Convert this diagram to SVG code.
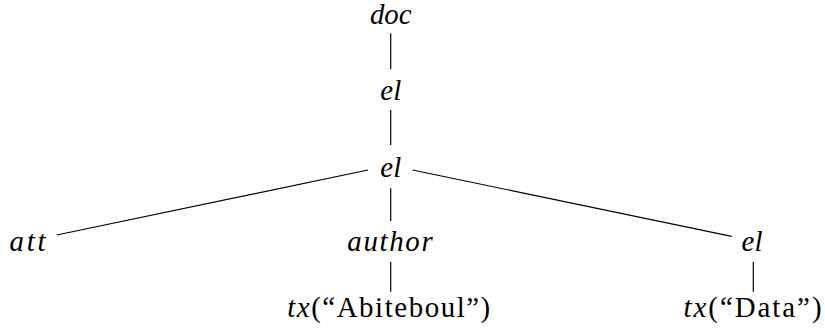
<svg xmlns="http://www.w3.org/2000/svg" width="825" height="336" viewBox="0 0 825 336">
<style>
text{font-family:'Liberation Serif','Times New Roman',serif;font-size:28.9px;fill:#000;text-anchor:middle}
.m{font-style:italic}
.r{font-style:normal}
.c line{stroke:#000;stroke-width:1.2}
</style>
<rect width="825" height="336" fill="#fff"/>
<g class="c" id="connectors">
<line x1="390.7" y1="33.3" x2="390.7" y2="69.3"/>
<line x1="390.7" y1="110" x2="390.7" y2="145"/>
<line x1="390.7" y1="188.3" x2="390.7" y2="221"/>
<line x1="368" y1="170" x2="56.7" y2="235"/>
<line x1="412.5" y1="170" x2="731.7" y2="236.3"/>
<line x1="390.7" y1="261.7" x2="390.7" y2="291.7"/>
<line x1="753.3" y1="261.7" x2="753.3" y2="291.7"/>
</g>
<g id="doc"><text class="m" x="390.7" y="24" textLength="41.6">doc</text></g>
<g id="el1"><text class="m" x="390.7" y="100" textLength="21">el</text></g>
<g id="el2"><text class="m" x="390.7" y="176.7" textLength="21">el</text></g>
<g id="att"><text class="m" x="27.5" y="250.5" textLength="36">att</text></g>
<g id="author"><text class="m" x="390" y="250.5" textLength="85.4">author</text></g>
<g id="el3"><text class="m" x="752" y="250.5" textLength="21">el</text></g>
<g id="tx1"><text x="388.7" y="316.7" textLength="203"><tspan class="m">tx</tspan><tspan class="r">(“Abiteboul”)</tspan></text></g>
<g id="tx2"><text x="752.5" y="316.7" textLength="138"><tspan class="m">tx</tspan><tspan class="r">(“Data”)</tspan></text></g>
</svg>
